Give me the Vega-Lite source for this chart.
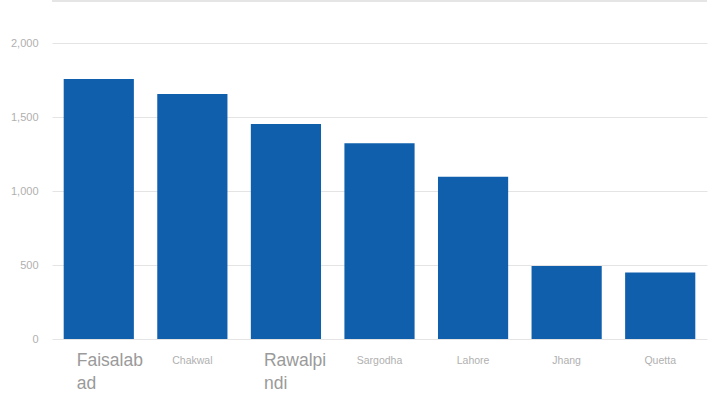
{
  "$schema": "https://vega.github.io/schema/vega-lite/v6.json",
  "width": 655,
  "height": 338,
  "autosize": "none",
  "padding": {"left": 52, "top": 1, "right": 2, "bottom": 54},
  "background": "white",
  "config": {
    "view": {"stroke": null},
    "font": "Liberation Sans"
  },
  "data": {
    "values": [
      {"city": "Faisalabad", "count": 1757},
      {"city": "Chakwal", "count": 1655},
      {"city": "Rawalpindi", "count": 1453},
      {"city": "Sargodha", "count": 1322},
      {"city": "Lahore", "count": 1097},
      {"city": "Jhang", "count": 493},
      {"city": "Quetta", "count": 450}
    ]
  },
  "layer": [
    {
      "mark": {"type": "bar", "color": "#0f5fad"},
      "encoding": {
        "x": {
          "field": "city",
          "type": "nominal",
          "sort": null,
          "scale": {"paddingInner": 0.25, "paddingOuter": 0.125},
          "axis": {
            "title": null,
            "domain": false,
            "ticks": false,
            "labelAngle": 0,
            "labelPadding": 21,
            "labelBaseline": "middle",
            "labelExpr": "datum.value == 'Faisalabad' ? ['Faisalab', 'ad'] : datum.value == 'Rawalpindi' ? ['Rawalpi', 'ndi'] : datum.value",
            "labelLineHeight": 23,
            "labelFontSize": {"condition": {"test": "datum.value == 'Faisalabad' || datum.value == 'Rawalpindi'", "value": 17.5}, "value": 10.5},
            "labelColor": {"condition": {"test": "datum.value == 'Faisalabad' || datum.value == 'Rawalpindi'", "value": "#9a9a9a"}, "value": "#b0b0b0"},
            "labelAlign": {"condition": {"test": "datum.value == 'Faisalabad' || datum.value == 'Rawalpindi'", "value": "left"}, "value": "center"},
            "labelOffset": {"condition": {"test": "datum.value == 'Faisalabad' || datum.value == 'Rawalpindi'", "value": -22}, "value": 0}
          }
        },
        "y": {
          "field": "count",
          "type": "quantitative",
          "scale": {"domain": [0, 2284], "nice": false},
          "axis": {
            "title": null,
            "domain": false,
            "ticks": false,
            "values": [0, 500, 1000, 1500, 2000],
            "format": ",.0f",
            "labelFontSize": 11,
            "labelColor": "#b0b0b0",
            "labelPadding": 14,
            "gridColor": "#e4e4e4",
            "gridWidth": 1
          }
        }
      }
    },
    {
      "mark": {"type": "rule", "color": "#e4e4e4", "strokeWidth": 1.5},
      "encoding": {"y": {"datum": 2284}}
    }
  ]
}
